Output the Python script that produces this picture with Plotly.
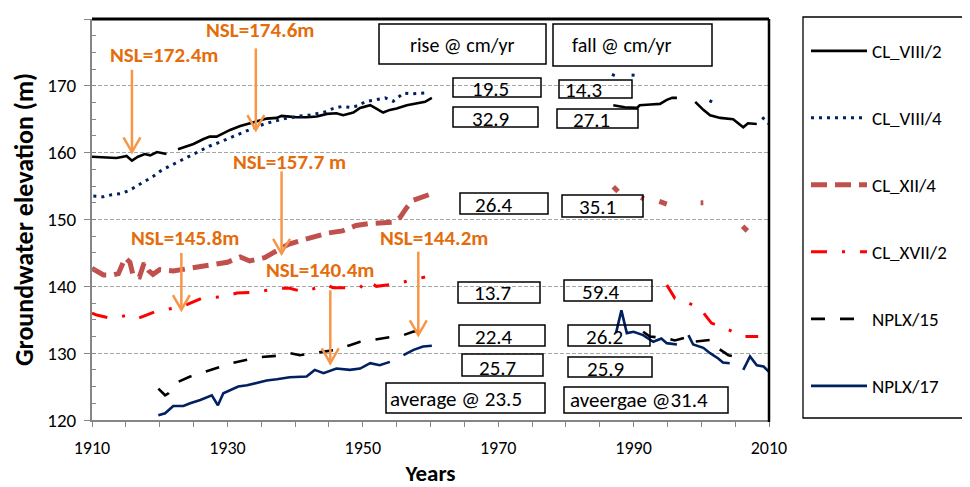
import plotly.graph_objects as go

FONT = "Calibri, Carlito, Lato, sans-serif"
N = None

# ---------------- data ----------------
cl8_2_years = [1910, 1911.7, 1913.6, 1914.6, 1915.1, 1915.9, 1916.8, 1917.8, 1918.6, 1919.6, 1920.3, 1921.0,
               1921.8,
               1922.7, 1924.0, 1925.0, 1926.4, 1927.4, 1928.4, 1929.4, 1930.4, 1931.9, 1932.9,
               1933.8, 1934.8, 1935.8, 1937.3, 1938.0, 1939.2, 1940.2, 1941.7, 1943.2, 1944.7,
               1946.1, 1947.1, 1948.6, 1949.6, 1951.1, 1952.0, 1953.0, 1954.0, 1955.0, 1956.5,
               1957.9, 1959.2, 1960.2,
               1970,
               1987.0, 1988.7, 1990.5, 1990.9, 1992.5, 1993.9, 1994.9, 1995.7, 1996.4,
               1998,
               1999.1, 2000.3, 2001.3, 2002.8, 2004.7, 2006.2, 2006.9, 2008.2]
cl8_2_vals = [159.4, 159.3, 159.2, 159.4, 159.5, 158.8, 159.4, 159.8, 159.6, 160.1, 160.0, 159.8,
              N,
              160.5, 160.9, 161.3, 162.0, 162.4, 162.4, 162.9, 163.4, 164.0, 164.3,
              164.5, 164.9, 165.1, 165.2, 165.5, 165.4, 165.3, 165.3, 165.4, 165.8,
              165.9, 165.6, 166.0, 166.7, 167.1, 166.6, 166.0, 166.4, 166.6, 167.1,
              167.4, 167.6, 168.2,
              N,
              167.1, 166.8, 166.7, 167.1, 167.2, 167.3, 167.9, 168.2, 168.2,
              N,
              167.6, 166.4, 165.6, 165.2, 165.0, 163.8, 164.4, 164.3]

cl8_4_years = [1910.2, 1911.7, 1912.9, 1914.4, 1915.6, 1916.8, 1918.0, 1919.1, 1920.3, 1921.5,
               1922.7, 1924.0, 1925.0, 1926.2, 1927.4, 1928.7, 1929.9, 1931.1, 1932.1, 1933.3,
               1934.6, 1935.8, 1937.3, 1938.5, 1939.7, 1940.7, 1942.0, 1943.2, 1944.4, 1945.6,
               1946.9, 1948.1, 1949.3, 1950.3, 1951.8, 1953.3, 1954.5, 1956.0, 1957.3, 1958.4,
               1959.8,
               1975, 1986.8, 1987.8, 1988.8, 1989.7, 1990.5, 1995, 2001.2, 2002.0, 2005, 2009.0, 2010]
cl8_4_vals = [153.5, 153.4, 153.7, 153.9, 154.4, 155.1, 155.8, 156.5, 157.4, 158.0,
              158.6, 159.2, 159.8, 160.4, 161.0, 161.5, 162.0, 162.5, 163.0, 163.5,
              164.0, 164.4, 164.8, 165.1, 165.3, 165.5, 165.6, 165.9, 166.1, 166.6,
              166.9, 166.8, 167.0, 167.6, 167.9, 168.2, 167.7, 168.9, 168.8, 168.9,
              169.0,
              N, 171.7, 171.3, N, 171.6, 171.6, N, 167.8, 167.4, N, 165.3, 164.3]

cl12_4_years = [1910, 1911.7, 1913.1, 1913.9, 1914.9, 1915.6, 1916.1, 1917.0, 1917.7, 1918.4,
                1919.0, 1920.0, 1922.0, 1924.0, 1926.0, 1928.0, 1930.0, 1931.9, 1933.3, 1935.5,
                1937.0, 1939.0, 1941.0, 1943.0, 1945.0, 1947.0, 1949.0, 1951.0, 1953.0, 1954.5,
                1955.5, 1956.5, 1957.5, 1958.5, 1960.0,
                1975, 1987.0, 1987.7, 1989, 1991.1, 1991.5, 1992.5, 1993.8, 1994.9, 1997,
                1999.9, 2000.3, 2003, 2006.1, 2006.8]
cl12_4_vals = [142.7, 141.7, 141.7, 141.9, 144.3, 143.6, 141.5, 141.4, 143.5, 142.3,
               141.8, 142.5, 142.3, 142.6, 142.9, 143.2, 143.6, 144.4, 143.8, 144.3,
               145.2, 146.3, 146.9, 147.5, 148.0, 148.3, 149.1, 149.4, 149.6, 149.6,
               150.3, 151.8, 152.9, 153.3, 153.8,
               N, 154.9, 154.2, N, 153.3, 153.1, N, 152.7, 152.3, N,
               152.5, 152.5, N, 149.0, 148.3]

cl17_2_years = [1910, 1910.7, 1912.9, 1915.4, 1916.8, 1919.3, 1921.8, 1923.2, 1926.2, 1928.9,
                1930.4, 1931.4, 1933.6, 1936.3, 1938.0, 1939.2, 1941.2, 1944.7, 1945.6, 1948.1,
                1949.6, 1950.6, 1952.0, 1955.0, 1957.7, 1959.2,
                1975,
                1994.9, 1996.1, 1998.1, 1999.8, 2001.5, 2004.0, 2006.2, 2008.4]
cl17_2_vals = [136.0, 135.7, 135.2, 135.7, 135.2, 136.2, 136.7, 136.9, 138.2, 138.4,
               138.7, 139.0, 139.1, 139.4, 139.7, 139.7, 139.2, 140.2, 139.8, 139.8,
               139.8, 140.9, 140.0, 140.4, 141.0, 141.4,
               N,
               140.2, 138.2, 137.5, 136.7, 134.5, 133.5, 132.5, 132.5]

nplx15_years = [1919.8, 1920.8, 1921.3, 1922.7, 1924.5, 1926.7, 1928.4, 1930.6, 1932.9, 1934.8,
                1937.3, 1939.2, 1940.7, 1943.7, 1946.1, 1948.1, 1949.6, 1951.5, 1953.0, 1956.0,
                1957.4, 1959.9,
                1975,
                1991.4, 1992.4, 1994.9, 1996.1, 1998.3, 1998.8, 2001.5, 2001.8, 2004.0, 2006.2]
nplx15_vals = [124.7, 123.7, 124.0, 125.7, 126.5, 127.2, 127.7, 128.5, 129.0, 129.4,
               129.6, 130.0, 129.7, 130.2, 130.5, 131.2, 131.7, 132.0, 132.2, 132.7,
               133.2, 133.7,
               N,
               133.2, 132.5, 132.2, 131.9, 132.5, 131.7, 132.0, 131.2, 129.7, 129.2]

nplx17_years = [1919.8, 1920.8, 1922.0, 1923.5, 1924.5, 1926.0, 1927.7, 1928.6, 1929.4, 1930.4,
                1931.6, 1932.9, 1934.3, 1935.8, 1937.3, 1939.2, 1941.7, 1942.9, 1944.2, 1946.1,
                1948.1, 1949.6, 1951.1, 1952.5, 1954.0,
                1955,
                1956.0, 1957.5, 1958.9, 1960.2,
                1975,
                1987.4, 1988.2, 1989.0, 1990.0, 1991.4, 1992.9, 1994.1, 1994.9, 1996.4,
                1997,
                1998.1, 1998.8, 2000.3, 2001.3, 2002.5, 2003.2, 2004.2,
                2005,
                2006.2, 2007.2, 2008.2, 2009.2, 2010]
nplx17_vals = [120.7, 121.0, 122.1, 122.1, 122.5, 123.0, 123.7, 122.2, 124.0, 124.5,
               125.0, 125.2, 125.5, 125.9, 126.1, 126.4, 126.5, 127.5, 127.0, 127.7,
               127.5, 127.7, 128.5, 128.2, 128.7,
               N,
               129.7, 130.5, 131.0, 131.1,
               N,
               133.0, 136.4, 133.0, 133.2, 132.7, 131.7, 132.2, 131.5, 131.3,
               N,
               132.7, 131.3, 130.8, 130.0, 129.2, 128.6, 128.5,
               N,
               127.5, 129.5, 128.2, 128.0, 127.2]

series_names = ["CL_VIII/2", "CL_VIII/4", "CL_XII/4", "CL_XVII/2", "NPLX/15", "NPLX/17"]
series_x = [cl8_2_years, cl8_4_years, cl12_4_years, cl17_2_years, nplx15_years, nplx17_years]
series_y = [cl8_2_vals, cl8_4_vals, cl12_4_vals, cl17_2_vals, nplx15_vals, nplx17_vals]

# NSL annotations: label, arrow year, arrow tail, arrow tip, label year, label elevation
nsl_labels = ["NSL=172.4m", "NSL=174.6m", "NSL=157.7 m", "NSL=145.8m", "NSL=140.4m", "NSL=144.2m"]
nsl_arrow_x = [1915.9, 1934.2, 1938.0, 1923.2, 1945.2, 1958.2]
nsl_arrow_tail = [172.4, 175.6, 157.2, 145.0, 139.4, 145.2]
nsl_arrow_tip = [160.1, 163.4, 144.9, 136.5, 128.5, 132.7]
nsl_text_x = [1920.6, 1934.8, 1939.2, 1923.7, 1943.7, 1960.5]
nsl_text_y = [174.6, 178.4, 158.6, 147.2, 142.4, 147.2]

# rate boxes text
box_texts = ["rise @ cm/yr", "fall @ cm/yr", "19.5", "14.3", "32.9", "27.1", "26.4", "35.1",
             "13.7", "59.4", "22.4", "26.2", "25.7", "25.9", "average @ 23.5", "aveergae @31.4"]

# ---------------- styling / layout ----------------
for xs, ys in zip(series_x, series_y):
    assert len(xs) == len(ys)

styles = [
    dict(color="#000000", width=2.6, dash="solid"),
    dict(color="#002060", width=3.0, dash="3px,5px"),
    dict(color="#C0504D", width=5.0, dash="16px,8px"),
    dict(color="#FF0000", width=3.0, dash="16px,15px,3px,15px"),
    dict(color="#000000", width=2.6, dash="14px,15px"),
    dict(color="#002060", width=2.6, dash="solid"),
]

# the page body has an 8px margin: the figure is drawn 8px right/down of the window corner
OFF = 8
FW, FH = 970 - OFF, 487 - OFF
L, R, T, B = 92, 769, 19, 420      # plot area in window pixels


def px(x):
    return (x - L) / (R - L)


def py(y):
    return (B - y) / (B - T)


NUM = 21
# box geometry in window pixels (x0, y0, x1, y1), text center (cx, cy), font size
box_geo = [
    (379, 24, 546, 64, 462, 45, 20), (553, 24, 712, 66, 622, 45, 20),
    (453, 78, 541, 97, 490, 89, NUM), (559, 80, 632, 98, 583, 90, NUM),
    (453, 107, 538, 127, 490, 119, NUM), (557, 109, 638, 128, 591, 120, NUM),
    (460, 193, 548, 214, 494, 205, NUM), (562, 195, 643, 217, 597, 207, NUM),
    (458, 282, 540, 303, 492, 293, NUM), (564, 280, 652, 301, 601, 292, NUM),
    (459, 325, 545, 346, 494, 337, NUM), (568, 325, 650, 346, 604, 337, NUM),
    (462, 354, 543, 376, 497, 368, NUM), (568, 357, 652, 377, 605, 369, NUM),
    (386, 383, 545, 413, 456, 399, 21), (564, 387, 728, 413, 639, 400, 21),
]

legend_item_y = [51, 118, 185, 252, 319, 386]

fig = go.Figure()
for i, (name, xs, ys, st) in enumerate(zip(series_names, series_x, series_y, styles)):
    fig.add_trace(go.Scatter(
        x=xs, y=ys, mode="lines", name=name, connectgaps=False,
        line=dict(color=st["color"], width=st["width"], dash=st["dash"]),
        legend="legend" if i == 0 else f"legend{i + 1}",
    ))

shapes = []
annotations = []

# plot frame (top and right borders)
shapes.append(dict(type="line", xref="paper", yref="paper", x0=0, x1=1, y0=1, y1=1,
                   line=dict(color="black", width=3)))
shapes.append(dict(type="line", xref="paper", yref="paper", x0=1, x1=1, y0=-0.005, y1=1,
                   line=dict(color="black", width=2.5)))
# legend frame
shapes.append(dict(type="rect", xref="paper", yref="paper", x0=px(803), x1=px(990),
                   y0=py(418), y1=py(17), line=dict(color="black", width=1.3)))

# NSL arrows
ORANGE_LINE = "#F79646"
for lab, ax, tail, tip, tx, ty in zip(nsl_labels, nsl_arrow_x, nsl_arrow_tail, nsl_arrow_tip,
                                       nsl_text_x, nsl_text_y):
    shapes.append(dict(type="line", xref="x", yref="y", x0=ax, x1=ax, y0=tail, y1=tip,
                       line=dict(color=ORANGE_LINE, width=2.5)))
    dx, dy = 1.25, 2.2
    shapes.append(dict(type="path", xref="x", yref="y",
                       path=f"M {ax - dx},{tip + dy} L {ax},{tip} L {ax + dx},{tip + dy}",
                       line=dict(color=ORANGE_LINE, width=2.5)))
    annotations.append(dict(x=tx, y=ty, xref="x", yref="y", text=f"<b>{lab}</b>", showarrow=False,
                            font=dict(family=FONT, size=21, color="#E46C0A"),
                            xanchor="center", yanchor="middle"))

# rate boxes
for txt, (x0, y0, x1, y1, cx, cy, fs) in zip(box_texts, box_geo):
    shapes.append(dict(type="rect", xref="paper", yref="paper", x0=px(x0), x1=px(x1),
                       y0=py(y1), y1=py(y0), line=dict(color="black", width=1.5)))
    annotations.append(dict(x=px(cx), y=py(cy), xref="paper", yref="paper", text=txt,
                            showarrow=False, font=dict(family=FONT, size=fs, color="black"),
                            xanchor="center", yanchor="middle"))

layout = dict(
    width=FW, height=FH,
    margin=dict(l=L - OFF, r=FW - (R - OFF), t=T - OFF, b=FH - (B - OFF), autoexpand=False),
    paper_bgcolor="white", plot_bgcolor="white",
    font=dict(family=FONT, color="black"),
    xaxis=dict(range=[1910, 2010], tick0=1910, dtick=20, showgrid=False, zeroline=False,
               showline=True, linecolor="#868686", linewidth=2, automargin=True,
               ticks="outside", ticklen=5, tickcolor="#868686", tickwidth=1.3,
               minor=dict(dtick=5, ticks="outside", ticklen=5, tickcolor="#868686", tickwidth=1.3),
               tickfont=dict(family=FONT, size=18, color="black"), ticklabelstandoff=5,
               title=dict(text="<b>Years</b>", font=dict(family=FONT, size=23, color="black"),
                          standoff=17)),
    yaxis=dict(range=[120, 180], tick0=120, dtick=10, zeroline=False, automargin=True,
               showgrid=True, gridcolor="#A6A6A6", gridwidth=1, griddash="4px,2px",
               showline=True, linecolor="#868686", linewidth=2,
               ticks="outside", ticklen=6, tickcolor="#868686", tickwidth=1.3,
               minor=dict(dtick=2.5, ticks="inside", ticklen=4, tickcolor="#868686",
                          tickwidth=1.3, showgrid=False),
               tickfont=dict(family=FONT, size=19, color="black"), ticklabelstandoff=4,
               title=dict(text="<b>Groundwater elevation (m)</b>",
                          font=dict(family=FONT, size=26, color="black"), standoff=8)),
    shapes=shapes,
    annotations=annotations,
    showlegend=True,
)
for i, ly in enumerate(legend_item_y):
    key = "legend" if i == 0 else f"legend{i + 1}"
    layout[key] = dict(x=px(806), xanchor="left", y=py(ly), yanchor="middle",
                       bgcolor="rgba(0,0,0,0)", borderwidth=0, itemwidth=56,
                       font=dict(family=FONT, size=19, color="black"))

fig.update_layout(**layout)
fig.write_html("out.html")
